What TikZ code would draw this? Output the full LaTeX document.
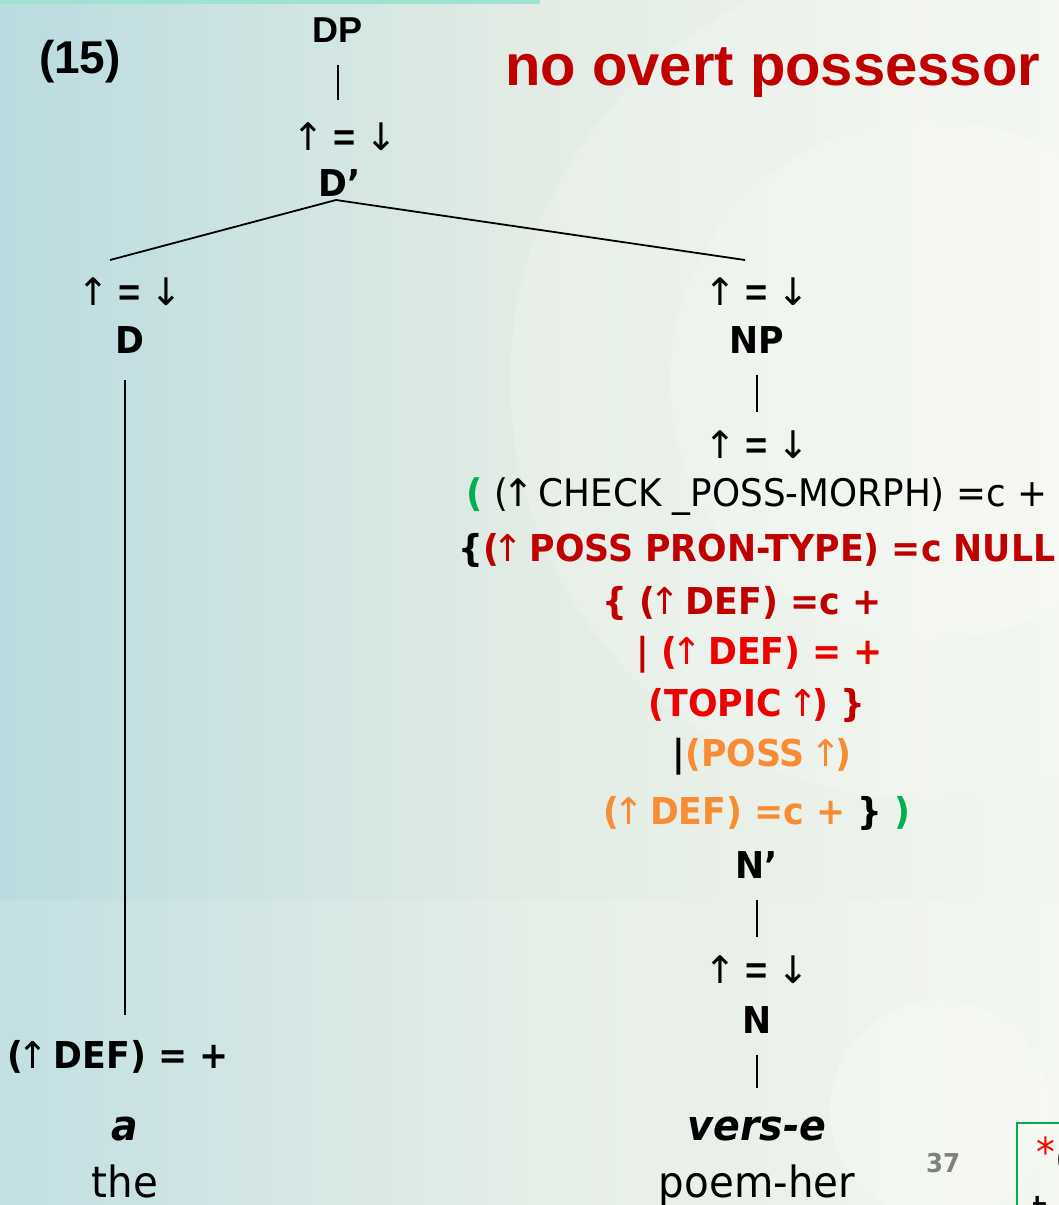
\documentclass[tikz,border=0pt]{standalone}
\usepackage{fontspec}
\setmainfont[FakeStretch=0.94]{DejaVu Sans}
\newfontfamily\arialfont{Liberation Sans}
\newfontfamily\arrowfont{DejaVu Sans}
\newcommand\myup{\makebox[0.5em][c]{\arrowfont\mdseries ↑}}
\newcommand\mydn{\makebox[0.5em][c]{\arrowfont\mdseries ↓}}
\definecolor{dkred}{RGB}{192,0,0}
\definecolor{brred}{RGB}{236,0,0}
\definecolor{orng}{RGB}{247,140,52}
\definecolor{grn}{RGB}{0,176,80}
\definecolor{bgL}{RGB}{186,219,224}
\definecolor{bgM}{RGB}{226,236,228}
\definecolor{bgR}{RGB}{242,246,238}
\definecolor{topbar}{RGB}{160,226,210}
\definecolor{pgnum}{RGB}{128,128,128}
\tikzset{
  txt/.style={inner sep=0pt, font=\fontsize{38}{44}\selectfont},
  cat/.style={inner sep=0pt, font=\fontsize{37}{44}\selectfont\bfseries},
  eqn/.style={inner sep=0pt, font=\fontsize{38}{44}\selectfont},
  word/.style={inner sep=0pt, anchor=base, font=\fontsize{42}{48}\selectfont\bfseries\itshape},
  gloss/.style={inner sep=0pt, anchor=base, font=\fontsize{43}{48}\selectfont},
  tree/.style={line width=1.8pt, black},
  bar/.style={line width=2.6pt, black},
}
\newcommand\eqarrows{\myup\hspace{0.42em}{\arialfont\bfseries =}\hspace{0.42em}\mydn}
\begin{document}
\begin{tikzpicture}[x=1pt,y=-1pt]
\useasboundingbox (0,0) rectangle (1059,1205);
% background
\shade[left color=bgL, right color=bgR, middle color=bgM] (0,0) rectangle (1059,1205);
\fill[white, opacity=0.18] (930,380) circle (420);
\fill[white, opacity=0.18] (930,380) circle (260);
\fill[white, opacity=0.25] (940,1110) circle (110);
\fill[white, opacity=0.12] (0,900) rectangle (1059,1205);
\fill[topbar] (0,0) rectangle (540,4);

% header
\node[inner sep=0pt, font=\fontsize{46}{50}\selectfont\arialfont\bfseries] (ex) at (80,62) {(15)};
\node[inner sep=0pt, anchor=base west, text=dkred, font=\fontsize{58}{62}\selectfont\arialfont\bfseries] (title) at (505,85) {no overt possessor};

% top of tree
\node[inner sep=0pt, font=\fontsize{36}{40}\selectfont\arialfont\bfseries] (dp) at (338,30) {DP};
\node[eqn] (eq1) at (345,137) {\eqarrows};
\node[cat] (dbar) at (340,183) {D’};
\draw[bar] (dp.south) ++(0,22) coordinate (b1t) -- ++(0,35) coordinate (b1b);
\coordinate (apex) at (336,200);
\coordinate (lend) at (110,260);
\coordinate (rend) at (745,260);
\draw[tree] (lend) -- (apex) -- (rend);

% left branch
\node[eqn] (eqL) at (130,292) {\eqarrows};
\node[cat] (d) at (130,340) {D};
\coordinate (dtop) at (125,380);
\coordinate (dbot) at (125,1015);
\draw[tree] (dtop) -- (dbot);
\node[cat] (defl) at (118,1057) {(\myup\ DEF) = +};
\node[word] (a) at (125,1140) {a};
\node[gloss] (the) at (125,1197) {the};

% right branch
\node[eqn] (eqR) at (757,292) {\eqarrows};
\node[cat] (np) at (757,340) {NP};
\coordinate (b2t) at (757,375);
\coordinate (b2b) at (757,412);
\draw[bar] (b2t) -- (b2b);
\node[eqn] (eqR2) at (757,445) {\eqarrows};

\node[txt] (l1) at (757,497) {\textcolor{grn}{\bfseries (}\ (\myup\ CHECK \_POSS-MORPH) =c +};
\node[cat, text=dkred] (l2) at (757,550) {\textcolor{black}{\{}(\myup\ POSS PRON-TYPE) =c NULL};
\node[cat, text=dkred] (l3) at (742,603) {\{ (\myup\ DEF) =c +};
\node[cat, text=brred] (l4) at (760,655) {\textcolor{dkred}{|} (\myup\ DEF) = +};
\node[cat, text=brred] (l5) at (757,705) {(TOPIC \myup) \textcolor{dkred}{\}}};
\node[cat, text=orng] (l6) at (762,757) {\textcolor{black}{|}(POSS \myup)};
\node[cat, text=orng] (l7) at (757,813) {(\myup\ DEF) =c + \textcolor{black}{\}} \textcolor{grn}{)}};

\node[cat] (nbar) at (757,865) {N’};
\coordinate (b3t) at (757,900);
\coordinate (b3b) at (757,937);
\draw[bar] (b3t) -- (b3b);
\node[eqn] (eqR3) at (757,970) {\eqarrows};
\node[cat] (n) at (757,1020) {N};
\coordinate (b4t) at (757,1055);
\coordinate (b4b) at (757,1088);
\draw[bar] (b4t) -- (b4b);
\node[word] (verse) at (757,1140) {vers-e};
\node[gloss] (poem) at (757,1197) {poem-her};

% page number and cut box
\node[inner sep=0pt, text=pgnum, font=\fontsize{26}{30}\selectfont\bfseries] (pg) at (943,1163) {37};
\draw[grn, line width=2pt] (1017,1220) -- (1017,1123) -- (1070,1123);
\node[inner sep=0pt, anchor=west, font=\fontsize{40}{44}\selectfont] (cut1) at (1036,1157) {\textcolor{red}{\raisebox{6pt}{*}}(};
\node[inner sep=0pt, anchor=west, font=\fontsize{40}{44}\selectfont] (cut2) at (1032,1210) {t};
\end{tikzpicture}
\end{document}
